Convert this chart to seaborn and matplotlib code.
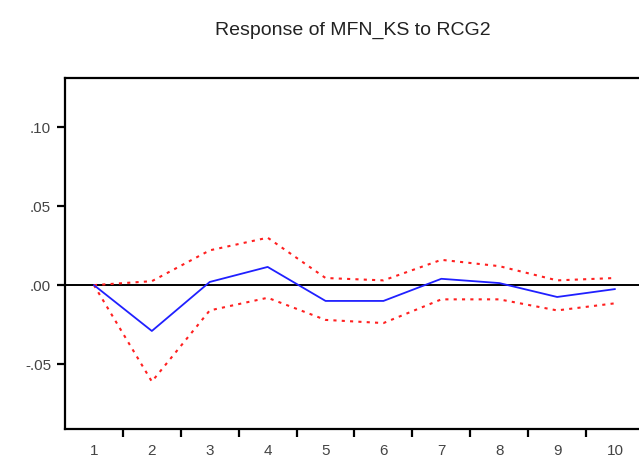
import numpy as np
import pandas as pd
import seaborn as sns
import matplotlib
matplotlib.use('Agg')
import matplotlib.pyplot as plt
from matplotlib.ticker import FixedLocator, FuncFormatter

# impulse response of MFN_KS to RCG2, with +/- 2 s.e. bands
periods = [1, 2, 3, 4, 5, 6, 7, 8, 9, 10]
response = [0.0, -0.029, 0.002, 0.0115, -0.010, -0.010, 0.004, 0.0013, -0.0075, -0.0025]
upper = [0.0, 0.0025, 0.022, 0.030, 0.0045, 0.003, 0.016, 0.012, 0.003, 0.0045]
lower = [0.0, -0.061, -0.016, -0.008, -0.022, -0.024, -0.009, -0.009, -0.016, -0.0115]
yticks = [-0.05, 0.0, 0.05, 0.10]

df = pd.DataFrame({'Period': periods, 'Response': response,
                   'Upper': upper, 'Lower': lower})

sns.set_style('white')
plt.rcParams['font.family'] = ['Liberation Sans', 'DejaVu Sans']

fig = plt.figure(figsize=(6.39, 4.58), dpi=100)
ax = fig.add_axes([65/639, 29/458, 579/639, 351/458])

ax.axhline(0, color='black', lw=1.4, zorder=1)
sns.lineplot(data=df, x='Period', y='Upper', color='#ff2020', lw=1.5,
             linestyle=(0, (1.5, 2.5)), ax=ax)
sns.lineplot(data=df, x='Period', y='Lower', color='#ff2020', lw=1.5,
             linestyle=(0, (1.5, 2.5)), ax=ax)
sns.lineplot(data=df, x='Period', y='Response', color='#2020ff', lw=1.3, ax=ax)

ax.set_xlim(0.5, 10.5)
ax.set_ylim(-0.091, 0.131)
ax.set_xlabel('')
ax.set_ylabel('')

# x labels at periods, tick marks between periods
ax.xaxis.set_major_locator(FixedLocator(periods))
ax.xaxis.set_minor_locator(FixedLocator([p + 0.5 for p in periods[:-1]]))
ax.tick_params(axis='x', which='major', length=0, pad=11, labelsize=11,
               labelcolor='#444444')
ax.tick_params(axis='x', which='minor', length=6, width=1.6, direction='out',
               color='black', bottom=True)
ax.set_yticks(yticks)
ax.yaxis.set_major_formatter(FuncFormatter(
    lambda v, _: ('-' if v < -1e-9 else '') + f'{abs(v):.2f}'.lstrip('0')))
ax.tick_params(axis='y', length=6, width=1.6, direction='out', color='black',
               left=True, labelsize=11, labelcolor='#444444', pad=4)

for side in ['left', 'bottom', 'top']:
    ax.spines[side].set_linewidth(1.6)
    ax.spines[side].set_color('black')
ax.spines['right'].set_visible(False)

fig.text(0.552, 0.934, 'Response of MFN_KS to RCG2', ha='center', va='center',
         fontsize=14, color='#222222')

fig.savefig('out.png', dpi=100)
